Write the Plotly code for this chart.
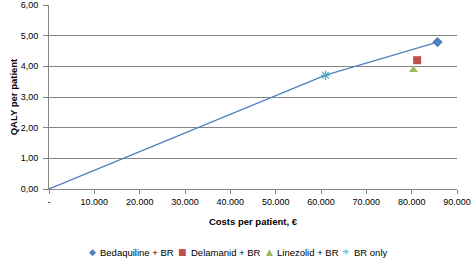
import plotly.graph_objects as go

series_names = ["Bedaquiline + BR", "Delamanid + BR", "Linezolid + BR", "BR only"]
costs = [85700, 81200, 80400, 61000]
qalys = [4.79, 4.20, 3.88, 3.71]
colors = ["#4F81BD", "#C0504D", "#9BBB59", "#4BACC6"]
symbols = ["diamond", "square", "triangle-up", "asterisk-open"]
legend_glyphs = ["◆", "■", "▲", "✳"]

frontier_costs = [0, 61000, 85700]
frontier_qalys = [0, 3.71, 4.79]

x_tickvals = [0, 10000, 20000, 30000, 40000, 50000, 60000, 70000, 80000, 90000]
x_ticktext = ["-", "10.000", "20.000", "30.000", "40.000", "50.000", "60.000", "70.000", "80.000", "90.000"]
y_tickvals = [0, 1, 2, 3, 4, 5, 6]
y_ticktext = ["0,00", "1,00", "2,00", "3,00", "4,00", "5,00", "6,00"]

W, H = 472, 258
L, R, T, B = 49, 15, 5, 69
PW, PH = W - L - R, H - T - B
legend_glyph_px = [92, 182, 269, 346]   # legend layout (pixels)
legend_text_px = [98, 189, 275, 352]
legend_y_px = 252

fig = go.Figure()
fig.add_trace(go.Scatter(x=frontier_costs, y=frontier_qalys, mode="lines",
                         line=dict(color="#4F81BD", width=1.3), showlegend=False, hoverinfo="skip"))
for name, cx, qy, c, s in zip(series_names, costs, qalys, colors, symbols):
    fig.add_trace(go.Scatter(x=[cx], y=[qy], mode="markers", name=name, showlegend=False,
                             marker=dict(color=c, symbol=s, size=8,
                                         line=dict(color=c, width=1.2 if s == "asterisk-open" else 0))))

annotations = []
ly = (H - B - legend_y_px) / PH
for name, c, g, gx, tx in zip(series_names, colors, legend_glyphs, legend_glyph_px, legend_text_px):
    annotations.append(dict(text=g, x=(gx - L) / PW, y=ly, xref="paper", yref="paper",
                            xanchor="center", yanchor="middle", showarrow=False,
                            font=dict(family="DejaVu Sans", size=9, color=c)))
    annotations.append(dict(text=name, x=(tx - L) / PW, y=ly, xref="paper", yref="paper",
                            xanchor="left", yanchor="middle", showarrow=False,
                            font=dict(size=9.5, color="#000000")))

font = "Liberation Sans"
fig.update_layout(
    width=W, height=H,
    margin=dict(l=L, r=R, t=T, b=B, autoexpand=False),
    paper_bgcolor="white", plot_bgcolor="white",
    font=dict(family=font, size=9, color="#000000"),
    showlegend=False,
    annotations=annotations,
    xaxis=dict(range=[0, 90000], tickvals=x_tickvals, ticktext=x_ticktext, automargin=False,
               showgrid=False, zeroline=False, showline=True, linecolor="#868686", linewidth=1,
               ticks="outside", ticklen=4, tickcolor="#868686",
               title=dict(text="<b>Costs per patient, €</b>", font=dict(size=9.5), standoff=12)),
    yaxis=dict(range=[0, 6], tickvals=y_tickvals, ticktext=y_ticktext, automargin=False,
               showgrid=True, gridcolor="#868686", gridwidth=1, zeroline=False,
               showline=True, linecolor="#868686", linewidth=1,
               ticks="outside", ticklen=5, tickcolor="#868686", ticklabelstandoff=3,
               title=dict(text="<b>QALY per patient</b>", font=dict(size=9.5), standoff=1)),
)
fig.write_html("out.html", config={"displayModeBar": False},
               post_script="document.body.style.margin='0';document.body.style.overflow='hidden';")
